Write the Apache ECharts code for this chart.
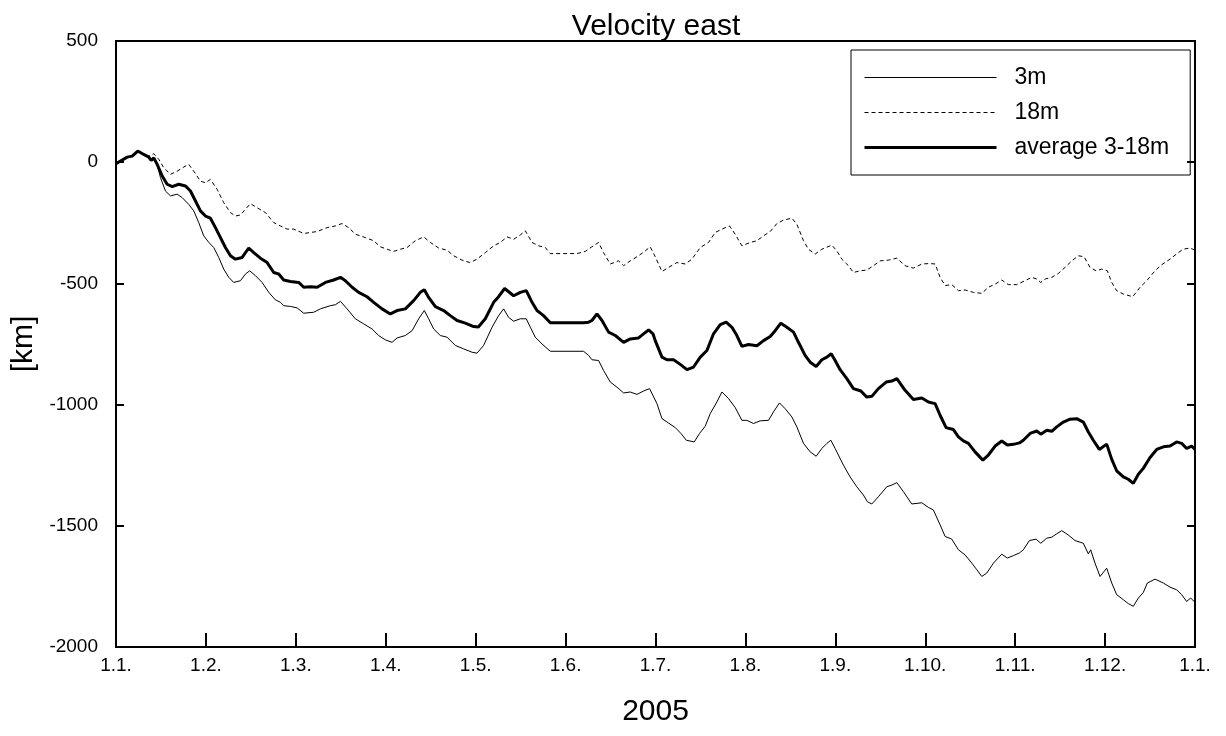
<!DOCTYPE html>
<html>
<head>
<meta charset="utf-8">
<script src="https://cdn.jsdelivr.net/npm/echarts@6/dist/echarts.min.js"></script>
<style>
  html, body { margin: 0; padding: 0; background: #fff; }
  #chart { width: 1226px; height: 736px; }
</style>
</head>
<body>
<div id="chart"></div>
<script>
// x = months since 1 Jan 2005, y = km
var monthLabels = ['1.1.', '1.2.', '1.3.', '1.4.', '1.5.', '1.6.', '1.7.', '1.8.', '1.9.', '1.10.', '1.11.', '1.12.', '1.1.'];
var seriesNames = ['3m', '18m', 'average 3-18m'];

var data3m = [[0,-6],[0.05,5],[0.125,21],[0.18,25],[0.242,46],[0.309,32],[0.365,21],[0.391,7],[0.42,18],[0.458,-12],[0.495,-64],[0.55,-119],[0.606,-139],[0.68,-132],[0.736,-146],[0.809,-174],[0.865,-201],[0.92,-249],[0.976,-304],[1.032,-331],[1.087,-352],[1.143,-393],[1.198,-441],[1.254,-475],[1.309,-496],[1.384,-489],[1.44,-461],[1.487,-448],[1.551,-468],[1.625,-496],[1.699,-537],[1.773,-568],[1.829,-578],[1.865,-592],[1.94,-595],[2.014,-601],[2.088,-623],[2.199,-619],[2.273,-605],[2.384,-592],[2.44,-588],[2.496,-574],[2.57,-605],[2.662,-646],[2.755,-667],[2.848,-688],[2.921,-715],[2.996,-733],[3.07,-743],[3.126,-725],[3.218,-715],[3.293,-695],[3.366,-646],[3.429,-612],[3.477,-646],[3.533,-688],[3.607,-715],[3.682,-722],[3.774,-756],[3.866,-770],[3.96,-784],[4.015,-788],[4.088,-756],[4.182,-681],[4.255,-633],[4.311,-605],[4.366,-640],[4.422,-656],[4.497,-646],[4.563,-646],[4.608,-681],[4.663,-722],[4.738,-750],[4.83,-780],[5.2,-780],[5.256,-797],[5.293,-815],[5.367,-818],[5.422,-859],[5.497,-907],[5.571,-928],[5.645,-952],[5.719,-948],[5.794,-958],[5.867,-944],[5.934,-934],[6.016,-996],[6.072,-1058],[6.145,-1076],[6.22,-1095],[6.283,-1119],[6.342,-1147],[6.431,-1154],[6.49,-1119],[6.553,-1089],[6.609,-1037],[6.683,-989],[6.739,-948],[6.812,-975],[6.886,-1012],[6.961,-1065],[7.016,-1065],[7.09,-1078],[7.164,-1067],[7.257,-1065],[7.312,-1030],[7.379,-993],[7.442,-1017],[7.517,-1051],[7.572,-1092],[7.646,-1160],[7.72,-1195],[7.787,-1213],[7.85,-1181],[7.906,-1160],[7.95,-1147],[7.998,-1181],[8.09,-1250],[8.164,-1298],[8.239,-1339],[8.312,-1373],[8.357,-1401],[8.406,-1410],[8.479,-1380],[8.572,-1339],[8.628,-1332],[8.684,-1322],[8.757,-1359],[8.85,-1410],[8.962,-1405],[9.035,-1424],[9.091,-1435],[9.165,-1496],[9.221,-1544],[9.295,-1555],[9.369,-1599],[9.443,-1620],[9.518,-1654],[9.573,-1681],[9.629,-1709],[9.684,-1695],[9.758,-1654],[9.851,-1617],[9.913,-1633],[9.98,-1623],[10.047,-1612],[10.091,-1599],[10.158,-1561],[10.232,-1555],[10.285,-1572],[10.351,-1551],[10.407,-1547],[10.462,-1533],[10.518,-1520],[10.591,-1538],[10.666,-1561],[10.758,-1572],[10.814,-1616],[10.84,-1599],[10.888,-1654],[10.944,-1709],[11.018,-1675],[11.074,-1736],[11.129,-1784],[11.203,-1805],[11.258,-1821],[11.314,-1832],[11.37,-1798],[11.425,-1775],[11.47,-1736],[11.555,-1720],[11.648,-1736],[11.722,-1753],[11.796,-1764],[11.852,-1784],[11.907,-1812],[11.952,-1798],[12,-1816]];

var data18m = [[0,-6],[0.05,5],[0.125,21],[0.18,25],[0.242,46],[0.309,32],[0.365,25],[0.42,35],[0.476,12],[0.531,-23],[0.606,-50],[0.68,-37],[0.754,-20],[0.809,-9],[0.865,-37],[0.939,-78],[0.995,-85],[1.05,-71],[1.125,-112],[1.198,-167],[1.273,-208],[1.328,-222],[1.384,-218],[1.44,-194],[1.495,-171],[1.57,-188],[1.662,-208],[1.754,-249],[1.829,-263],[1.903,-276],[1.976,-276],[2.088,-294],[2.162,-290],[2.237,-286],[2.348,-270],[2.44,-263],[2.514,-253],[2.588,-270],[2.662,-297],[2.773,-311],[2.866,-324],[2.94,-349],[3.015,-359],[3.088,-368],[3.163,-359],[3.237,-352],[3.329,-324],[3.422,-308],[3.496,-331],[3.588,-354],[3.682,-363],[3.755,-386],[3.848,-404],[3.935,-414],[4.015,-400],[4.107,-373],[4.2,-345],[4.274,-331],[4.349,-308],[4.422,-318],[4.497,-300],[4.552,-283],[4.627,-331],[4.7,-345],[4.775,-352],[4.83,-377],[5.127,-377],[5.219,-368],[5.293,-349],[5.367,-331],[5.422,-373],[5.497,-420],[5.589,-407],[5.645,-427],[5.719,-407],[5.812,-386],[5.886,-366],[5.941,-349],[5.997,-390],[6.072,-451],[6.145,-434],[6.238,-414],[6.331,-420],[6.405,-400],[6.498,-352],[6.59,-331],[6.664,-290],[6.739,-276],[6.823,-263],[6.886,-297],[6.961,-345],[7.054,-331],[7.128,-324],[7.201,-304],[7.276,-286],[7.35,-253],[7.423,-239],[7.517,-231],[7.572,-256],[7.646,-324],[7.701,-359],[7.776,-379],[7.85,-359],[7.961,-342],[8.017,-366],[8.072,-400],[8.146,-427],[8.201,-455],[8.276,-448],[8.35,-445],[8.424,-427],[8.498,-407],[8.59,-404],[8.684,-396],[8.776,-427],[8.868,-437],[8.962,-420],[9.054,-418],[9.11,-420],[9.165,-475],[9.221,-509],[9.295,-505],[9.369,-530],[9.443,-527],[9.535,-537],[9.629,-541],[9.702,-516],[9.777,-503],[9.851,-486],[9.924,-505],[10.017,-505],[10.109,-489],[10.184,-475],[10.24,-482],[10.285,-496],[10.333,-482],[10.407,-475],[10.48,-459],[10.555,-434],[10.629,-407],[10.703,-386],[10.766,-390],[10.833,-434],[10.9,-448],[10.962,-441],[11.025,-448],[11.074,-496],[11.129,-530],[11.203,-544],[11.307,-555],[11.389,-516],[11.463,-489],[11.555,-448],[11.629,-423],[11.722,-400],[11.814,-373],[11.869,-359],[11.944,-354],[12,-363]];

var dataAvg = [[0,-6],[0.05,5],[0.125,21],[0.18,25],[0.242,46],[0.309,32],[0.365,21],[0.391,7],[0.42,18],[0.458,-9],[0.514,-57],[0.569,-91],[0.625,-101],[0.698,-91],[0.773,-98],[0.828,-119],[0.884,-160],[0.939,-201],[0.995,-222],[1.05,-231],[1.106,-270],[1.162,-311],[1.217,-352],[1.273,-386],[1.328,-400],[1.403,-393],[1.476,-354],[1.532,-373],[1.606,-396],[1.681,-414],[1.754,-455],[1.81,-461],[1.865,-486],[1.94,-492],[2.032,-496],[2.088,-516],[2.162,-514],[2.237,-516],[2.329,-496],[2.421,-486],[2.496,-475],[2.551,-489],[2.626,-516],[2.699,-537],[2.792,-555],[2.866,-578],[2.959,-605],[3.051,-626],[3.126,-612],[3.218,-605],[3.31,-571],[3.385,-537],[3.429,-526],[3.477,-558],[3.552,-596],[3.644,-612],[3.718,-633],[3.793,-653],[3.885,-664],[3.977,-678],[4.03,-680],[4.107,-646],[4.2,-578],[4.255,-555],[4.322,-521],[4.422,-551],[4.497,-537],[4.563,-530],[4.627,-578],[4.682,-612],[4.755,-633],[4.83,-662],[4.978,-662],[5.2,-662],[5.256,-660],[5.293,-653],[5.349,-626],[5.405,-653],[5.478,-701],[5.553,-715],[5.645,-743],[5.719,-729],[5.812,-725],[5.867,-708],[5.923,-692],[5.972,-708],[5.997,-736],[6.072,-804],[6.127,-815],[6.201,-815],[6.275,-834],[6.35,-856],[6.423,-845],[6.498,-804],[6.572,-777],[6.645,-708],[6.72,-670],[6.786,-660],[6.85,-681],[6.905,-715],[6.961,-760],[7.034,-752],[7.128,-757],[7.201,-736],[7.276,-719],[7.331,-695],[7.394,-664],[7.461,-681],[7.535,-701],[7.59,-743],[7.664,-797],[7.72,-825],[7.787,-843],[7.85,-815],[7.906,-804],[7.954,-790],[7.998,-818],[8.053,-856],[8.128,-893],[8.201,-934],[8.284,-944],[8.35,-969],[8.406,-966],[8.479,-934],[8.565,-907],[8.628,-903],[8.684,-893],[8.776,-941],[8.868,-979],[8.962,-973],[9.035,-989],[9.11,-996],[9.165,-1044],[9.232,-1095],[9.313,-1103],[9.369,-1133],[9.424,-1150],[9.48,-1160],[9.554,-1195],[9.64,-1229],[9.702,-1208],[9.777,-1171],[9.851,-1150],[9.913,-1167],[9.98,-1164],[10.047,-1158],[10.091,-1147],[10.166,-1119],[10.24,-1109],[10.285,-1122],[10.351,-1106],[10.407,-1110],[10.462,-1092],[10.536,-1072],[10.61,-1060],[10.685,-1058],[10.758,-1072],[10.814,-1113],[10.869,-1147],[10.936,-1185],[11.018,-1163],[11.074,-1226],[11.129,-1273],[11.203,-1298],[11.258,-1308],[11.314,-1325],[11.37,-1287],[11.425,-1263],[11.5,-1218],[11.574,-1185],[11.648,-1174],[11.722,-1171],[11.796,-1154],[11.852,-1160],[11.907,-1181],[11.963,-1171],[12,-1185]];

var font = 'Liberation Sans';

var chart = echarts.init(document.getElementById('chart'), null, { renderer: 'canvas' });

var yAxisBase = {
    type: 'value',
    min: -2000,
    max: 500,
    interval: 500,
    axisLine: { show: true, onZero: false, lineStyle: { color: '#000', width: 2 } },
    axisTick: { show: true, inside: true, length: 8, lineStyle: { color: '#000', width: 2 } },
    splitLine: { show: false }
};

chart.setOption({
    animation: false,
    backgroundColor: '#fff',
    title: {
        text: 'Velocity east',
        left: 656,
        top: 12,
        padding: 0,
        textAlign: 'center',
        textStyle: { fontFamily: font, fontSize: 30, fontWeight: 'normal', color: '#000' }
    },
    legend: {
        orient: 'vertical',
        left: 851,
        top: 50,
        itemWidth: 132,
        itemHeight: 14,
        itemGap: 12,
        padding: [16, 21, 16, 12],
        borderColor: '#000',
        borderWidth: 1,
        itemStyle: { opacity: 0, borderWidth: 0 },
        textStyle: { fontFamily: font, fontSize: 23, color: '#000', padding: [0, 0, 0, 13] },
        data: [
            { name: seriesNames[0], lineStyle: { width: 1 } },
            { name: seriesNames[1], lineStyle: { width: 1 } },
            { name: seriesNames[2], lineStyle: { width: 3 } }
        ]
    },
    grid: {
        left: 116,
        right: 31,
        top: 41,
        bottom: 89,
        show: true,
        borderColor: '#000',
        borderWidth: 2
    },
    xAxis: {
        type: 'value',
        min: 0,
        max: 12,
        interval: 1,
        name: '2005',
        nameLocation: 'middle',
        nameGap: 50,
        nameTextStyle: { fontFamily: font, fontSize: 30, color: '#000' },
        axisLine: { show: true, onZero: false, lineStyle: { color: '#000', width: 2 } },
        axisTick: { show: true, inside: true, length: 14, lineStyle: { color: '#000', width: 2 } },
        axisLabel: {
            fontFamily: font, fontSize: 19, color: '#000', margin: 9,
            showMinLabel: true, showMaxLabel: true,
            formatter: function (v) { return monthLabels[v]; }
        },
        splitLine: { show: false }
    },
    yAxis: [
        Object.assign({}, yAxisBase, {
            position: 'left',
            name: '[km]',
            nameLocation: 'middle',
            nameGap: 75,
            nameTextStyle: { fontFamily: font, fontSize: 30, color: '#000' },
            axisLabel: {
                fontFamily: font, fontSize: 19, color: '#000', margin: 18,
                formatter: function (v) { return String(v); }
            }
        }),
        Object.assign({}, yAxisBase, {
            position: 'right',
            axisLabel: { show: false }
        })
    ],
    series: [
        {
            name: '3m', type: 'line', data: data3m,
            showSymbol: false, symbol: 'none',
            itemStyle: { color: '#000' },
            lineStyle: { color: '#000', width: 1 }
        },
        {
            name: '18m', type: 'line', data: data18m,
            showSymbol: false, symbol: 'none',
            itemStyle: { color: '#000' },
            lineStyle: { color: '#000', width: 1, type: [4, 3] }
        },
        {
            name: 'average 3-18m', type: 'line', data: dataAvg,
            showSymbol: false, symbol: 'none',
            itemStyle: { color: '#000' },
            lineStyle: { color: '#000', width: 3 }
        }
    ]
});
</script>
</body>
</html>
